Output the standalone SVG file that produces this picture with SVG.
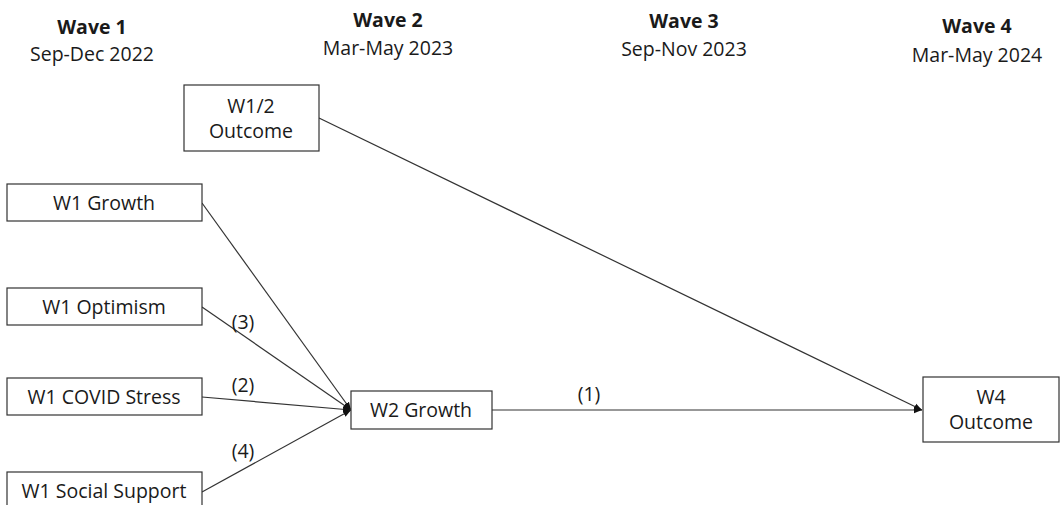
<svg xmlns="http://www.w3.org/2000/svg" width="1060" height="505" viewBox="0 0 1060 505">
<style>
text{font-family:"Open Sans","Liberation Sans",sans-serif;font-size:19.5px;fill:#1a1a1a}
.h{font-weight:bold}
.c{text-anchor:middle}
.box{fill:#fff;stroke:#333;stroke-width:1.2}
.ln{stroke:#333;stroke-width:1.2;fill:none}
</style>
<defs>
<marker id="ah" viewBox="0 0 10 10" refX="10" refY="5" markerWidth="8" markerHeight="8" orient="auto" markerUnits="userSpaceOnUse">
<path d="M0,1 L10,5 L0,9 z" fill="#111"/>
</marker>
</defs>
<g id="headers">
<text class="c h" x="92" y="34">Wave 1</text>
<text class="c" x="92" y="61">Sep-Dec 2022</text>
<text class="c h" x="388" y="27">Wave 2</text>
<text class="c" x="388" y="55">Mar-May 2023</text>
<text class="c h" x="684" y="28">Wave 3</text>
<text class="c" x="684" y="56">Sep-Nov 2023</text>
<text class="c h" x="977" y="33">Wave 4</text>
<text class="c" x="977" y="62">Mar-May 2024</text>
</g>
<g id="connectors">
<line class="ln" x1="319" y1="118" x2="922" y2="410" marker-end="url(#ah)"/>
<line class="ln" x1="492" y1="410" x2="922" y2="410" marker-end="url(#ah)"/>
<line class="ln" x1="202" y1="203" x2="351" y2="410" marker-end="url(#ah)"/>
<line class="ln" x1="202" y1="307" x2="351" y2="410" marker-end="url(#ah)"/>
<line class="ln" x1="202" y1="397" x2="351" y2="410" marker-end="url(#ah)"/>
<line class="ln" x1="202" y1="492" x2="351" y2="410" marker-end="url(#ah)"/>
<text class="c" x="243" y="329">(3)</text>
<text class="c" x="243" y="392">(2)</text>
<text class="c" x="243" y="458">(4)</text>
<text class="c" x="589" y="401">(1)</text>
</g>
<g id="n-w12outcome">
<rect class="box" x="184" y="85" width="135" height="66"/>
<text class="c" x="251" y="113">W1/2</text>
<text class="c" x="251" y="138">Outcome</text>
</g>
<g id="n-w1growth">
<rect class="box" x="7" y="184" width="195" height="37"/>
<text class="c" x="104" y="210">W1 Growth</text>
</g>
<g id="n-w1optimism">
<rect class="box" x="7" y="288" width="195" height="37"/>
<text class="c" x="104" y="314">W1 Optimism</text>
</g>
<g id="n-w1covid">
<rect class="box" x="7" y="378" width="195" height="37"/>
<text class="c" x="104" y="404">W1 COVID Stress</text>
</g>
<g id="n-w1social">
<rect class="box" x="7" y="472" width="195" height="37"/>
<text class="c" x="104" y="498">W1 Social Support</text>
</g>
<g id="n-w2growth">
<rect class="box" x="351" y="391" width="141" height="38"/>
<text class="c" x="421" y="417">W2 Growth</text>
</g>
<g id="n-w4outcome">
<rect class="box" x="923" y="377" width="136" height="65"/>
<text class="c" x="991" y="404">W4</text>
<text class="c" x="991" y="429">Outcome</text>
</g>
</svg>
